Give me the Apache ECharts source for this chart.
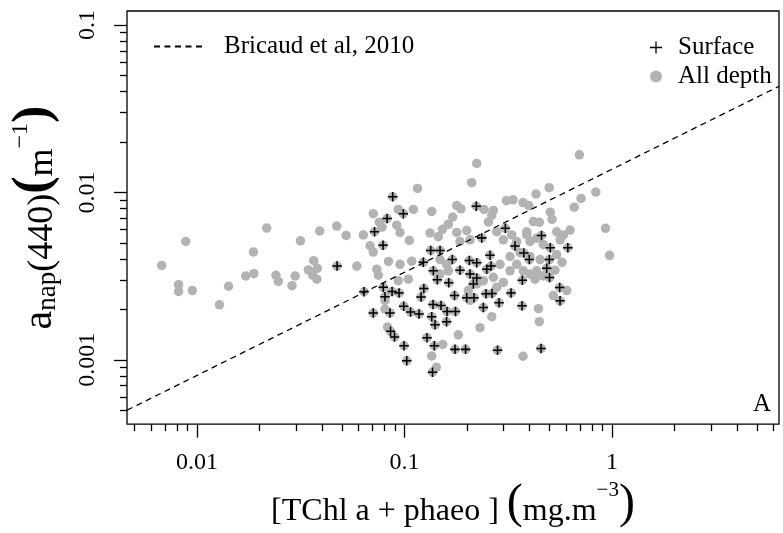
<!DOCTYPE html>
<html><head><meta charset="utf-8">
<script src="https://cdn.jsdelivr.net/npm/echarts@6/dist/echarts.min.js"></script>
<style>html,body{margin:0;padding:0;background:#fff}#c{width:783px;height:533px}</style>
</head><body><div id="c"></div>
<script>
// ---- data ----
// gray dots that carry no "+" (deeper samples)
const deepX = [0.00676,0.00883,0.00815,0.00815,0.00949,0.01283,0.01419,0.01717,0.01878,0.01871,0.02167,0.0240,0.02465,0.0297,0.0287,0.0315,0.0365,0.0344,0.0380,0.0361,0.0378,0.0390,0.0471,0.0523,0.0633,0.0707,0.0756,0.0779,0.0933,0.0917,0.0682,0.0707,0.0589,0.0735,0.0748,0.0837,0.0805,0.0828,0.0805,0.1155,0.1103,0.0951,0.1055,0.0951,0.1083,0.1043,0.0933,0.1352,0.1327,0.1455,0.1785,0.1872,0.1707,0.1626,0.1524,0.1785,0.1851,0.1994,0.2069,0.1483,0.1597,0.1483,0.1626,0.1816,0.1352,0.1423,0.1528,0.2030,0.2228,0.2069,0.2108,0.2228,0.2416,0.2632,0.2535,0.2679,0.2782,0.2993,0.3286,0.3473,0.3095,0.3334,0.3725,0.3972,0.388,0.4025,0.4176,0.4462,0.4301,0.498,0.504,0.514,0.4666,0.541,0.583,0.6275,0.5616,0.6575,0.709,0.835,0.696,0.930,0.973,0.2632,0.2311,0.4423,0.4462,0.605,0.521,0.3725,0.2398,0.2679,0.2782,0.2993,0.3224,0.3473,0.3737,0.4025,0.4335,0.4666,0.4254,0.2886,0.3224,0.4025,0.4498,0.3603,0.541,0.574,0.531,0.388,0.4335];
const deepY = [0.00366,0.00509,0.00281,0.00256,0.00259,0.00213,0.00275,0.00317,0.00327,0.00441,0.00612,0.00320,0.00294,0.00317,0.00277,0.00514,0.00391,0.00344,0.00352,0.00320,0.00303,0.00588,0.00629,0.00553,0.00557,0.00746,0.00664,0.00620,0.00791,0.00637,0.00480,0.00440,0.00363,0.00347,0.00320,0.00387,0.00201,0.00157,0.00226,0.01057,0.00791,0.00576,0.00517,0.00372,0.00388,0.00303,0.00297,0.00770,0.00572,0.00544,0.00835,0.00798,0.00713,0.00646,0.00602,0.00577,0.00509,0.00592,0.00521,0.00397,0.00372,0.00325,0.00340,0.00141,0.001055,0.000902,0.001234,0.00259,0.00284,0.00226,0.01143,0.0149,0.00791,0.00729,0.00666,0.00780,0.00582,0.00521,0.00557,0.00509,0.00893,0.00903,0.00869,0.00835,0.00582,0.00509,0.00670,0.00664,0.00977,0.01068,0.00762,0.00691,0.00487,0.00582,0.00557,0.00596,0.00521,0.00816,0.00920,0.01004,0.01676,0.00610,0.00421,0.00181,0.001556,0.00202,0.00169,0.00259,0.00242,0.00105,0.00297,0.00311,0.00271,0.00290,0.00340,0.00372,0.00340,0.00325,0.00340,0.00317,0.00303,0.00372,0.00414,0.00414,0.00397,0.00437,0.00425,0.00382,0.00343,0.00557,0.00533];
// surface samples ("+"), also part of "All depth"
const surfaceX = [0.0473,0.0638,0.0790,0.0805,0.0871,0.0941,0.0707,0.0851,0.0856,0.0895,0.0877,0.0987,0.0824,0.0717,0.0788,0.0991,0.1069,0.1175,0.0995,0.1025,0.1232,0.1377,0.1337,0.1483,0.1239,0.1201,0.1439,0.1633,0.1742,0.1372,0.1499,0.1352,0.1603,0.1761,0.1594,0.1403,0.1283,0.1392,0.1364,0.1751,0.1968,0.2807,0.4548,0.2218,0.3061,0.2355,0.4573,0.3408,0.3757,0.3994,0.504,0.6124,0.4987,0.4845,0.4998,0.1699,0.2052,0.2228,0.2582,0.2612,0.2489,0.1851,0.2069,0.2228,0.2146,0.3696,0.5592,0.5616,0.1994,0.2162,0.2471,0.2641,0.2854,0.3261,0.3684,0.2398];
const surfaceY = [0.00363,0.00255,0.00271,0.00238,0.00256,0.00251,0.001905,0.001905,0.001479,0.001369,0.00942,0.00746,0.00698,0.00582,0.00483,0.00209,0.00193,0.00188,0.001213,0.000987,0.00382,0.00340,0.00450,0.00450,0.00267,0.00237,0.00301,0.00289,0.00242,0.00214,0.00211,0.00181,0.001945,0.00194,0.00169,0.001617,0.001356,0.001213,0.000843,0.001154,0.001154,0.001141,0.001169,0.00827,0.00610,0.00535,0.00553,0.00478,0.00435,0.00397,0.00467,0.00467,0.00397,0.00352,0.00310,0.00397,0.00392,0.00380,0.00421,0.00363,0.00347,0.00343,0.00325,0.00308,0.00284,0.00299,0.00270,0.00225,0.00235,0.00235,0.00248,0.00249,0.00219,0.00251,0.00210,0.00205];
// Bricaud et al. 2010 relation, end points at the frame edges
const bricaudX = [0.0046, 6.38];
const bricaudY = [0.0005, 0.0431];
// axes
const xMajorTicks = [0.01, 0.1, 1];
const xMajorLabels = ['0.01', '0.1', '1'];
const xMinorTicks = [0.005,0.006,0.007,0.008,0.009,0.02,0.03,0.04,0.05,0.06,0.07,0.08,0.09,0.2,0.3,0.4,0.5,0.6,0.7,0.8,0.9,2,3,4,5,6];
const yMajorTicks = [0.001, 0.01, 0.1];
const yMajorLabels = ['0.001', '0.01', '0.1'];
const yMinorTicks = [0.0005,0.0006,0.0007,0.0008,0.0009,0.002,0.003,0.004,0.005,0.006,0.007,0.008,0.009,0.02,0.03,0.04,0.05,0.06,0.07,0.08,0.09];
const xMin = 0.004598, xMax = 6.377;
const yMin = 0.0004128, yMax = 0.1213;

// ---- chart ----
const FONT = '"Liberation Serif", "DejaVu Serif", serif';
function pick(vals, labels) {
  return function (v) {
    let best = 0, bd = Infinity;
    for (let i = 0; i < vals.length; i++) {
      const d = Math.abs(Math.log10(v) - Math.log10(vals[i]));
      if (d < bd) { bd = d; best = i; }
    }
    return labels[best];
  };
}
const zip = (xs, ys) => xs.map((x, i) => [x, ys[i]]);
const plusPath = 'path://M-1.6,-10H1.6V-1.6H10V1.6H1.6V10H-1.6V1.6H-10V-1.6H-1.6Z';
const plusThin = 'path://M-1.1,-10H1.1V-1.1H10V1.1H1.1V10H-1.1V1.1H-10V-1.1H-1.1Z';

const chart = echarts.init(document.getElementById('c'), null, {renderer: 'canvas'});
const axisCommon = {
  type: 'log', logBase: 10,
  splitLine: {show: false},
  axisLine: {show: false}
};
chart.setOption({
  animation: false,
  backgroundColor: '#fff',
  grid: {left: 127, top: 11, width: 652, height: 422, show: true,
         borderColor: '#000', borderWidth: 1.3, backgroundColor: 'transparent'},
  legend: [
    {data: ['Bricaud et al, 2010'], left: 148, top: 29, itemWidth: 49, itemHeight: 12,
     itemStyle: {opacity: 0},
     textStyle: {fontFamily: FONT, fontSize: 25, color: '#000', padding: [0, 0, 0, 16]},
     selectedMode: false},
    {data: [{name: 'Surface', icon: plusThin}, {name: 'All depth', icon: 'circle'}],
     orient: 'vertical', left: 645, top: 30,
     itemWidth: 12, itemHeight: 12, itemGap: 4,
     textStyle: {fontFamily: FONT, fontSize: 25, color: '#000', padding: [0, 0, 0, 11]},
     selectedMode: false}
  ],
  xAxis: [
    Object.assign({}, axisCommon, {
      min: xMin, max: xMax, position: 'bottom',
      axisTick: {show: true, length: 13.5, inside: false, customValues: xMajorTicks,
                 lineStyle: {color: '#000', width: 1.3}},
      axisLabel: {show: true, customValues: xMajorTicks, formatter: pick(xMajorTicks, xMajorLabels),
                  fontFamily: FONT, fontSize: 24, color: '#000', margin: 27},
      name: '{m|[TChl a + phaeo ] }{p|(}{m|mg.m}{s|\u22123}{p|)}',
      nameLocation: 'middle', nameGap: 42,
      nameTextStyle: {fontFamily: FONT, color: '#000', rich: {
        m: {fontFamily: FONT, fontSize: 32, color: '#000', lineHeight: 32, verticalAlign: 'bottom'},
        p: {fontFamily: FONT, fontSize: 48, color: '#000', lineHeight: 48, verticalAlign: 'bottom'},
        s: {fontFamily: FONT, fontSize: 21, color: '#000', lineHeight: 40, verticalAlign: 'top'}
      }}
    }),
    Object.assign({}, axisCommon, {
      min: xMin, max: xMax, position: 'bottom',
      axisTick: {show: true, length: 7, customValues: xMinorTicks, lineStyle: {color: '#000', width: 1.3}},
      axisLabel: {show: false}
    })
  ],
  yAxis: [
    Object.assign({}, axisCommon, {
      min: yMin, max: yMax, position: 'left',
      axisTick: {show: true, length: 13, customValues: yMajorTicks, lineStyle: {color: '#000', width: 1.3}},
      axisLabel: {show: true, customValues: yMajorTicks, formatter: pick(yMajorTicks, yMajorLabels),
                  rotate: 90, fontFamily: FONT, fontSize: 24, color: '#000', margin: 27},
      name: '{a|a}{b|nap}{m|(440)}{p|(}{m|m}{s|\u22121}{p|)}',
      nameLocation: 'middle', nameGap: 66, nameRotate: 90,
      nameTextStyle: {fontFamily: FONT, color: '#000', rich: {
        a: {fontFamily: FONT, fontSize: 42, color: '#000', lineHeight: 42, verticalAlign: 'bottom'},
        b: {fontFamily: FONT, fontSize: 27, color: '#000', lineHeight: 12, verticalAlign: 'bottom'},
        m: {fontFamily: FONT, fontSize: 36, color: '#000', lineHeight: 36, verticalAlign: 'bottom'},
        p: {fontFamily: FONT, fontSize: 52, color: '#000', fontWeight: 'bold', lineHeight: 52, verticalAlign: 'bottom'},
        s: {fontFamily: FONT, fontSize: 24, color: '#000', lineHeight: 46, verticalAlign: 'top'}
      }}
    }),
    Object.assign({}, axisCommon, {
      min: yMin, max: yMax, position: 'left',
      axisTick: {show: true, length: 7, customValues: yMinorTicks, lineStyle: {color: '#000', width: 1.3}},
      axisLabel: {show: false}
    })
  ],
  series: [
    {name: 'All depth', type: 'scatter', xAxisIndex: 0, yAxisIndex: 0,
     symbol: 'circle', symbolSize: 9.5, itemStyle: {color: '#b3b3b3', opacity: 1},
     data: zip(deepX, deepY).concat(zip(surfaceX, surfaceY)), z: 2},
    {name: 'Surface', type: 'scatter', xAxisIndex: 0, yAxisIndex: 0,
     symbol: plusPath, symbolSize: 9.5, itemStyle: {color: '#000', opacity: 1},
     data: zip(surfaceX, surfaceY), z: 3},
    {name: 'Bricaud et al, 2010', type: 'line', xAxisIndex: 0, yAxisIndex: 0,
     symbol: 'none', clip: true, itemStyle: {color: '#000'},
     lineStyle: {color: '#000', width: 1.3, type: [6, 4.5]},
     data: zip(bricaudX, bricaudY), z: 4}
  ],
  graphic: [
    {type: 'text', right: 12, top: 392,
     style: {text: 'A', font: '25px ' + FONT, fill: '#000'}}
  ]
});
</script>
</body></html>
